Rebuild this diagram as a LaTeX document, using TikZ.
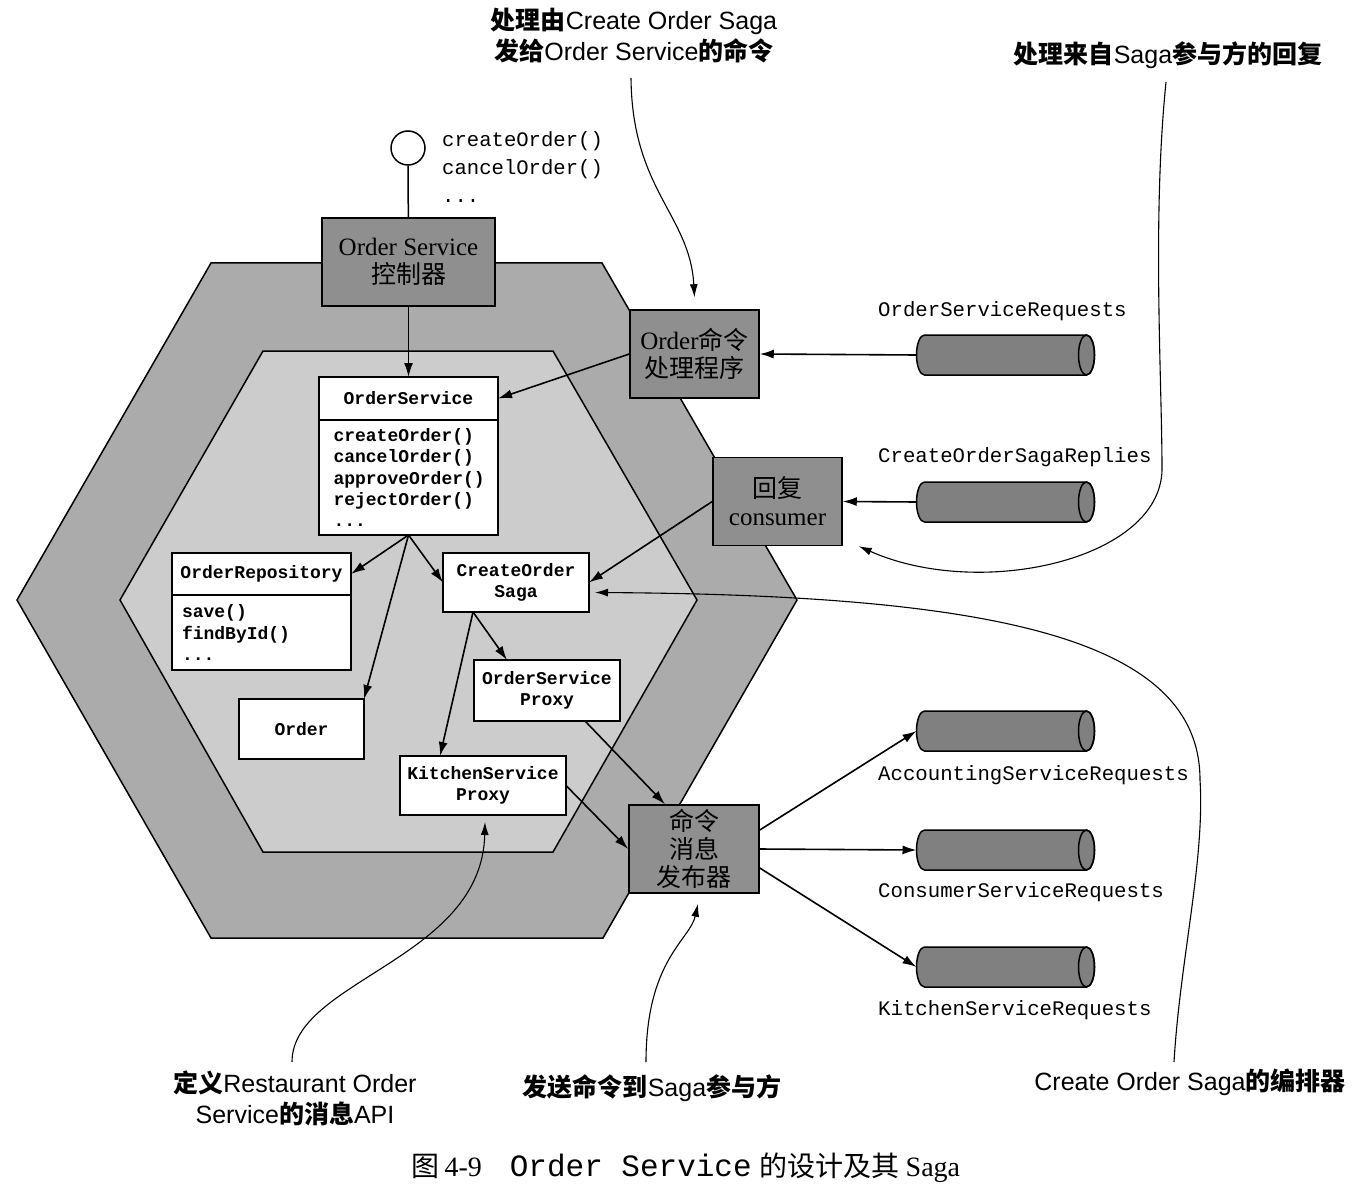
\documentclass[tikz,border=0pt]{standalone}
\usepackage{fontspec}
\setmainfont{Liberation Serif}
\setsansfont{Liberation Sans}
\setmonofont{Liberation Mono}
\newfontfamily\cjk{Noto Sans CJK SC}
\newcommand{\zh}[1]{{\cjk #1}}
\newcommand{\zhb}[1]{{\cjk\bfseries #1}}
\usetikzlibrary{arrows.meta}
\definecolor{hexouter}{gray}{0.67}
\definecolor{hexinner}{gray}{0.80}
\definecolor{boxgray}{gray}{0.56}
\definecolor{queuegray}{gray}{0.50}

\begin{document}
\begin{tikzpicture}[x=1pt,y=-1pt,
  darkbox/.style={draw,line width=1.5pt,fill=boxgray,minimum width=129pt,minimum height=88pt,
    align=center,inner sep=2pt,font=\rmfamily\fontsize{25}{28}\selectfont},
  classbox/.style={draw,line width=1.5pt,fill=white,align=center,inner sep=0pt,outer sep=0pt,
    font=\ttfamily\bfseries\fontsize{18}{21.3}\selectfont},
  queue/.style={minimum width=178pt,minimum height=40pt,inner sep=0pt,outer sep=0pt},
  qlabel/.style={anchor=west,inner sep=0pt,font=\ttfamily\fontsize{20.7}{24}\selectfont},
  note/.style={align=center,font=\sffamily\fontsize{25}{31}\selectfont},
  link/.style={-{Latex[length=14pt,width=9pt]},line width=1.6pt},
  pointer/.style={-{Latex[length=13pt,width=8pt]},line width=1.1pt}]
\useasboundingbox (0,0) rectangle (1359,1190);
\fill[white] (0,0) rectangle (1359,1190);

% the two layers of the service
\filldraw[fill=hexouter,line width=1.5pt] (17,600) -- (211,263) -- (602,263) -- (797,600) -- (603,938) -- (211,938) -- cycle;
\filldraw[fill=hexinner,line width=1.5pt] (120,600) -- (263,351) -- (553,351) -- (697,600) -- (553,852) -- (263,852) -- cycle;

% API and adapters
\node[circle,draw,line width=1.5pt,fill=white,minimum size=34pt,inner sep=0pt] (iface) at (408,148) {};
\node[anchor=west,align=left,inner sep=0pt,font=\ttfamily\fontsize{20.6}{28}\selectfont] (ops) at (442,167) {createOrder()\\cancelOrder()\\...};
\node[darkbox,minimum width=173pt] (ctrl) at (408.5,262) {Order Service\\\zh{控制器}};
\node[darkbox] (ordCmd) at (694.5,354) {Order\zh{命令}\\\zh{处理程序}};
\node[darkbox] (reply) at (777.5,501.5) {\zh{回复}\\consumer};
\node[darkbox,minimum width=130pt] (pub) at (694,849) {\zh{命令}\\\zh{消息}\\\zh{发布器}};

% domain classes
\node[classbox,minimum width=179pt,minimum height=43pt] (osHead) at (408.5,398.5) {OrderService};
\node[classbox,anchor=north,minimum width=179pt,minimum height=115pt,align=left,text width=150pt] (osBody) at (osHead.south) {createOrder()\\cancelOrder()\\approveOrder()\\rejectOrder()\\...};
\node[classbox,minimum width=179pt,minimum height=42pt] (repoHead) at (261.5,574) {OrderRepository};
\node[classbox,anchor=north,minimum width=179pt,minimum height=75pt,align=left,text width=159pt] (repoBody) at (repoHead.south) {save()\\findById()\\...};
\node[classbox,minimum width=125pt,minimum height=60pt] (order) at (301.5,729) {Order};
\node[classbox,minimum width=146pt,minimum height=59pt] (saga) at (516,582.5) {CreateOrder\\Saga};
\node[classbox,minimum width=146pt,minimum height=61pt] (osProxy) at (547,690.5) {OrderService\\Proxy};
\node[classbox,minimum width=166pt,minimum height=59pt] (ksProxy) at (483,785.5) {KitchenService\\Proxy};

% message channels
\node[queue] (qOSR) at (1005.5,355) {};
\node[queue] (qCOSR) at (1005.5,502) {};
\node[queue] (qASR) at (1005.5,731) {};
\node[queue] (qCSR) at (1005.5,850) {};
\node[queue] (qKSR) at (1005.5,967) {};
\foreach \q in {qOSR,qCOSR,qASR,qCSR,qKSR} {
  \filldraw[fill=queuegray,line width=1.5pt] ([xshift=8pt]\q.north west) -- ([xshift=-8pt]\q.north east)
    arc[start angle=90,end angle=-90,x radius=8pt,y radius=20pt] -- ([xshift=8pt]\q.south west)
    arc[start angle=270,end angle=90,x radius=8pt,y radius=20pt] -- cycle;
  \draw[line width=1.5pt] ([xshift=-8pt]\q.east) ellipse[x radius=8pt,y radius=20pt];
}
\node[qlabel] (lOSR) at (878,311) {OrderServiceRequests};
\node[qlabel] (lCOSR) at (878,457) {CreateOrderSagaReplies};
\node[qlabel] (lASR) at (878,775) {AccountingServiceRequests};
\node[qlabel] (lCSR) at (878,892) {ConsumerServiceRequests};
\node[qlabel] (lKSR) at (878,1010) {KitchenServiceRequests};

% connectors
\draw[line width=1.5pt] (iface) -- (ctrl);
\draw[link] (ctrl) -- (osHead);
\draw[link] (ordCmd.west) -- (osHead.east);
\draw[link] (qOSR.west) -- (ordCmd.east);
\draw[link] (qCOSR.west) -- (reply.east);
\draw[link] (reply.west) -- (saga.east);
\draw[link] (osBody.south) -- (repoHead.east);
\draw[link] (osBody.south) -- (order.north east);
\draw[link] (osBody.south) -- (saga.west);
\draw[link] ([xshift=-43pt]saga.south) -- ([xshift=-40pt]osProxy.north);
\draw[link] ([xshift=-43pt]saga.south) -- ([xshift=-43pt]ksProxy.north);
\draw[link] ([xshift=38pt]osProxy.south) -- ([xshift=-29pt]pub.north);
\draw[link] (ksProxy.east) -- (pub.west);
\draw[link] ([yshift=19pt]pub.east) -- (qASR.west);
\draw[link] (pub.east) -- (qCSR.west);
\draw[link] ([yshift=-19pt]pub.east) -- (qKSR.west);

% callouts
\node[note] (nCmd) at (634,36) {\zhb{处理由}Create Order Saga\\\zhb{发给}Order Service\zhb{的命令}};
\node[note] (nReply) at (1168,55) {\zhb{处理来自}Saga\zhb{参与方的回复}};
\node[note] (nApi) at (295,1098) {\zhb{定义}Restaurant Order\\Service\zhb{的消息}API};
\node[note] (nSend) at (652,1088) {\zhb{发送命令到}Saga\zhb{参与方}};
\node[note] (nOrch) at (1190,1082) {Create Order Saga\zhb{的编排器}};
\coordinate (cCmd) at (631,78);
\coordinate (cReply) at (1166,82);
\coordinate (cApi) at (292,1062);
\coordinate (cSend) at (646,1062);
\coordinate (cOrch) at (1174,1062);
\draw[pointer] (cCmd) .. controls (632,190) and (690,215) .. ([yshift=12pt]ordCmd.north);
\draw[pointer] (cReply) .. controls (1152,220) and (1162,380) .. (1162,470) .. controls (1160,560) and (980,600) .. ([xshift=16pt]reply.south east);
\draw[pointer] (cOrch) .. controls (1180,960) and (1205,860) .. (1200,780) .. controls (1200,640) and (1000,595) .. ([xshift=6pt,yshift=-10pt]saga.east);
\draw[pointer] (cSend) .. controls (646,960) and (690,940) .. ([xshift=4pt,yshift=-10pt]pub.south);
\draw[pointer] (cApi) .. controls (292,980) and (482,960) .. ([xshift=2pt,yshift=-7pt]ksProxy.south);

% figure caption
\node[font=\rmfamily\fontsize{28}{30}\selectfont] (caption) at (686,1168) {\zh{图}\,4-9\hspace{28pt}{\ttfamily\fontsize{31}{30}\selectfont Order Service}\hspace{8pt}\zh{的设计及其}\hspace{6pt}Saga};
\end{tikzpicture}
\end{document}
